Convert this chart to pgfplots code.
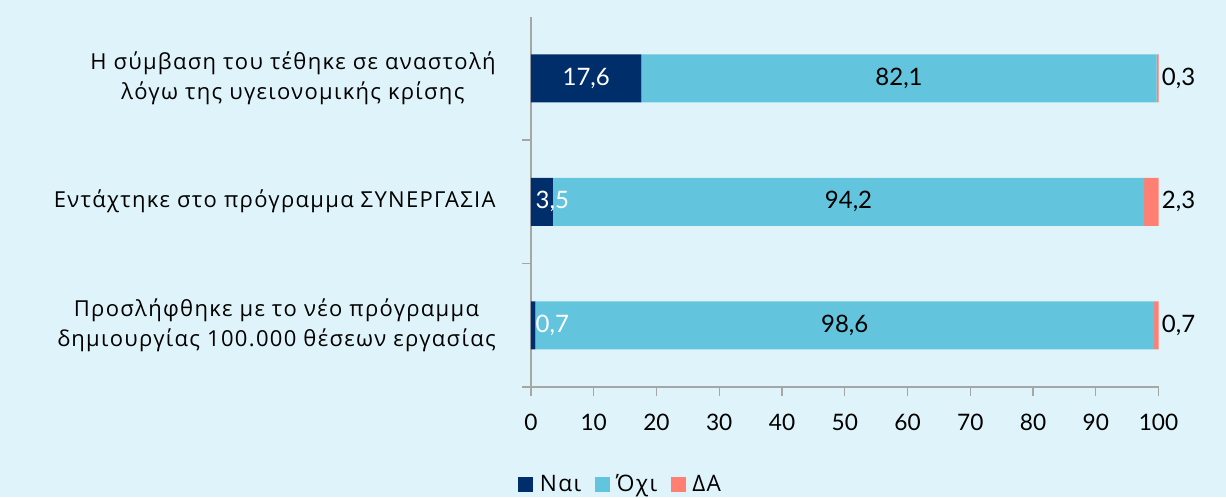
\documentclass[border=0pt]{standalone}
\usepackage{fontspec}
\setmainfont{Lato}
\newfontfamily\catfont{Open Sans}[LetterSpace=6]
\usepackage{pgfplots}
\pgfplotsset{compat=1.18}

\definecolor{bg}{HTML}{DFF4FA}
\definecolor{nai}{HTML}{002E6B}
\definecolor{oxi}{HTML}{63C5DD}
\definecolor{da}{HTML}{FF8073}
\definecolor{axgray}{HTML}{A6A6A6}

% 1px of the reference = 0.75pt
\pgfplotsset{
  frame/.style={
    at={(0pt,0pt)}, anchor=south west, scale only axis,
    width=470.625pt, height=277.875pt,
    xmin=0, xmax=100, ymin=0.5, ymax=3.5,
  },
}

\begin{document}
\begin{tikzpicture}
\fill[bg] (-398.25pt,-82.5pt) rectangle (521.25pt,290.25pt);
\useasboundingbox (-398.25pt,-82.5pt) rectangle (521.25pt,290.25pt);

\begin{axis}[frame,
    xbar stacked, bar width=36pt,
    axis lines*=left,
    axis line style={draw=axgray, line width=0.8pt},
    tick style={draw=axgray, line width=0.8pt},
    tick align=outside, major tick length=7pt,
    xtick={0,10,...,100},
    ytick={0.5,1.5,2.5},
    yticklabels={{Προσλήφθηκε με το νέο πρόγραμμα\\δημιουργίας 100.000 θέσεων εργασίας},
                 {Εντάχτηκε στο πρόγραμμα ΣΥΝΕΡΓΑΣΙΑ},
                 {Η σύμβαση του τέθηκε σε αναστολή\\λόγω της υγειονομικής κρίσης}},
    yticklabel style={anchor=east, align=center, yshift=46.3pt, xshift=-16pt,
      font=\catfont\fontsize{16.5}{22.5}\selectfont},
    xticklabel style={font=\fontsize{17}{20}\selectfont, yshift=-10pt},
    /pgf/number format/assume math mode=true,
    legend style={at={(0.1434,-0.262)}, anchor=center, draw=none, fill=none,
      inner sep=0pt, nodes={inner ysep=0.5pt},
      legend columns=3, font=\catfont\fontsize{17}{18}\selectfont,
      /tikz/every odd column/.append style={column sep=3pt},
      /tikz/every even column/.append style={column sep=8pt}},
    legend image code/.code={\fill[#1] (0pt,-5.6pt) rectangle (11.25pt,5.6pt);},
]
\addplot[fill=nai, draw=none] coordinates {(0.7,1) (3.5,2) (17.6,3)};
\addlegendentry{Ναι}
\addplot[fill=oxi, draw=none] coordinates {(98.6,1) (94.2,2) (82.1,3)};
\addlegendentry{Όχι}
\addplot[fill=da, draw=none] coordinates {(0.7,1) (2.3,2) (0.3,3)};
\addlegendentry{ΔΑ}
\end{axis}

% value labels, on an identical axis without stacking
\begin{axis}[frame, hide axis,
    nodes near coords={\pgfmathprintnumber[use comma,fixed,fixed zerofill,precision=1]{\pgfplotspointmeta}},
    point meta=explicit,
    /pgf/number format/assume math mode=true,
    every node near coord/.append style={font=\fontsize{18}{20}\selectfont},
]
% Ναι, wide segment: centred, white
\addplot[draw=none, mark=none, nodes near coords style={anchor=center, white}]
  coordinates {(8.8,3) [17.6]};
% Ναι, narrow segments: from the start of the bar, white
\addplot[draw=none, mark=none, nodes near coords style={anchor=west, white, xshift=0pt}]
  coordinates {(0,2) [3.5] (0,1) [0.7]};
% Όχι: centred, black
\addplot[draw=none, mark=none, nodes near coords style={anchor=center, black}]
  coordinates {(58.65,3) [82.1] (50.6,2) [94.2] (50.0,1) [98.6]};
% ΔΑ: just right of the bar, black
\addplot[draw=none, mark=none, nodes near coords style={anchor=west, black, xshift=-1pt}]
  coordinates {(100,3) [0.3] (100,2) [2.3] (100,1) [0.7]};
\end{axis}
\end{tikzpicture}
\end{document}
